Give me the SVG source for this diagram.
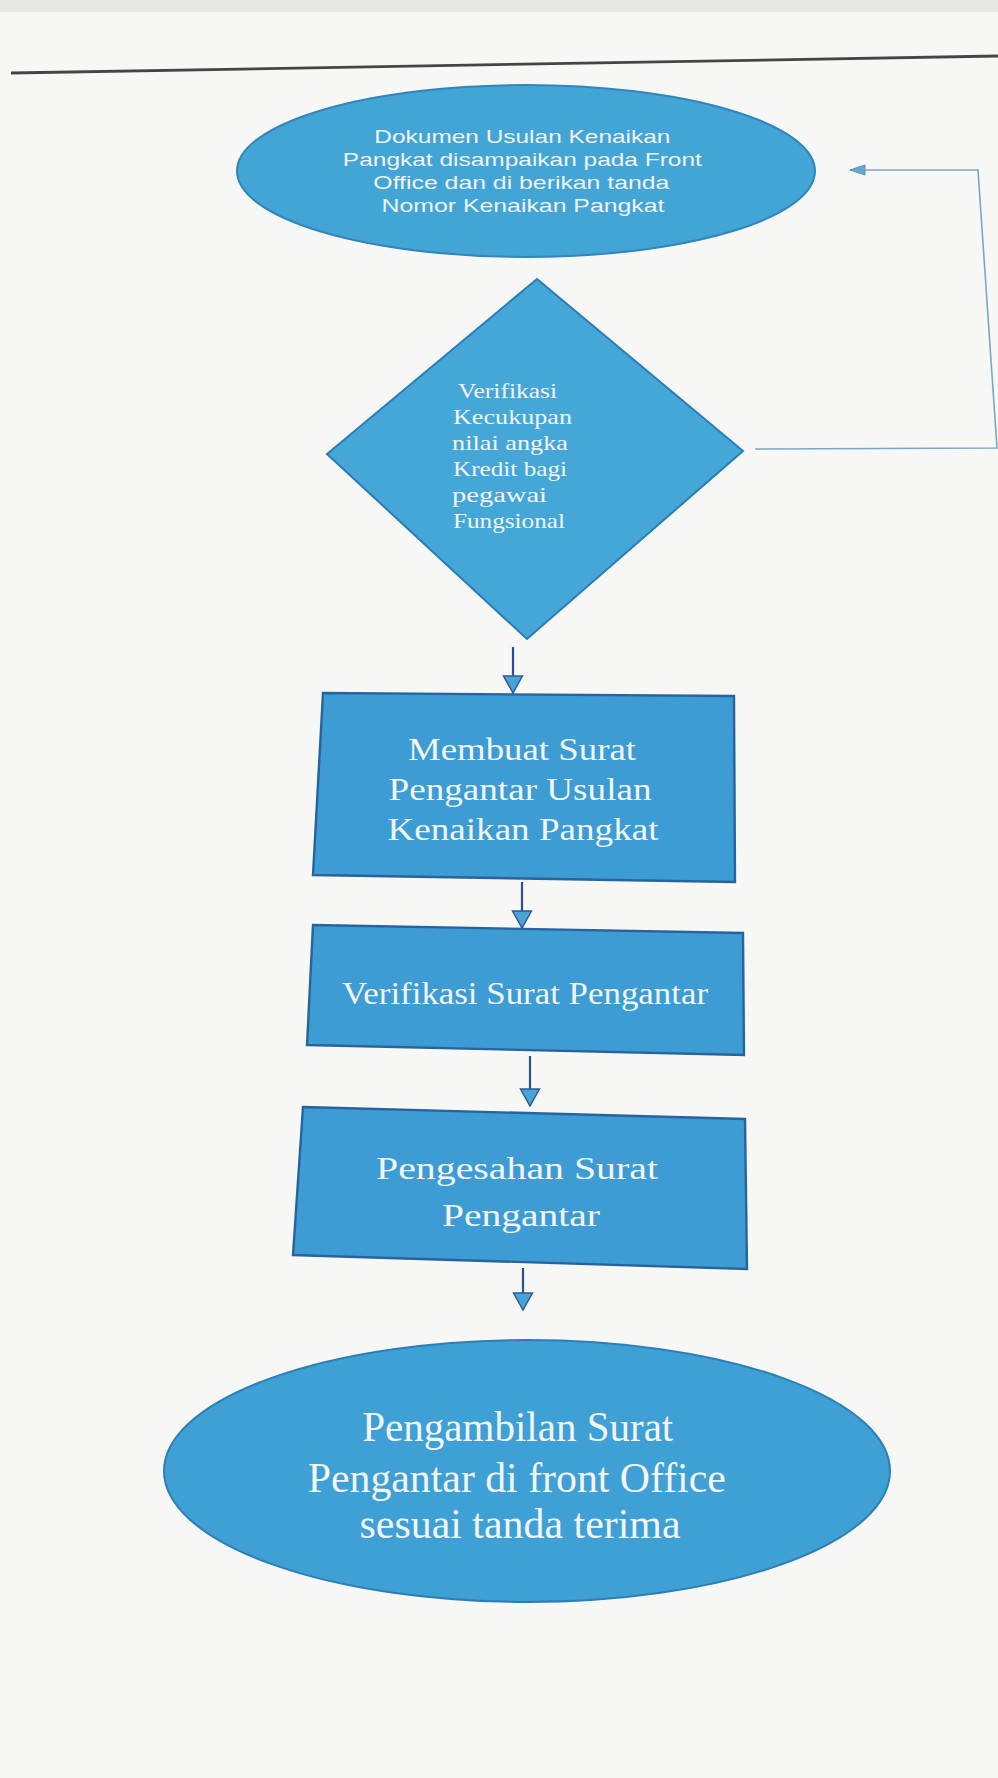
<svg xmlns="http://www.w3.org/2000/svg" width="998" height="1778" viewBox="0 0 998 1778">
<defs>
<style>
.shape{fill:#3d9cd3;stroke:#27639f;stroke-width:2.4}
.sans{font-family:"Liberation Sans",Arial,sans-serif;fill:#eef4f8;font-size:19px}
.serif{font-family:"Liberation Serif","Times New Roman",serif;fill:#f2f6fa}
.flow{stroke:#2b4f8f;stroke-width:2.2;fill:none}
.back{stroke:#7aa6c8;stroke-width:1.6;fill:none}
</style>
<marker id="ah" markerUnits="userSpaceOnUse" markerWidth="22" markerHeight="22" refX="18" refY="10.5" orient="auto" viewBox="0 0 22 22">
<path d="M1,1 L18,10.5 L1,20 z" fill="#4aa3d6" stroke="#2b5a98" stroke-width="1.5"/>
</marker>
<marker id="ah2" markerUnits="userSpaceOnUse" markerWidth="18" markerHeight="14" refX="16" refY="7" orient="auto" viewBox="0 0 18 14">
<path d="M1,2 L16,7 L1,12 z" fill="#6aa6d2" stroke="#5a8fbf" stroke-width="1"/>
</marker>
</defs>
<rect x="0" y="0" width="998" height="1778" fill="#f7f8f5"/>
<rect x="0" y="0" width="998" height="12" fill="#e4e7e4"/>
<line x1="11" y1="73" x2="998" y2="56" stroke="#454545" stroke-width="2.8"/>

<g id="connectors">
<polyline class="back" points="755,449 997,448 978,170 850,170" marker-end="url(#ah2)"/>
<line class="flow" x1="513" y1="647" x2="513" y2="693" marker-end="url(#ah)"/>
<line class="flow" x1="522" y1="882" x2="522" y2="928" marker-end="url(#ah)"/>
<line class="flow" x1="530" y1="1056" x2="530" y2="1106" marker-end="url(#ah)"/>
<line class="flow" x1="523" y1="1268" x2="523" y2="1310" marker-end="url(#ah)"/>
</g>

<g id="start">
<ellipse class="shape" cx="526" cy="171" rx="289" ry="86" style="fill:#43a4d6;stroke:#2f86bb;stroke-width:2"/>
<text class="sans" text-anchor="middle">
<tspan x="525" y="143" textLength="296" lengthAdjust="spacingAndGlyphs">Dokumen Usulan Kenaikan</tspan>
<tspan x="525" y="166" textLength="359" lengthAdjust="spacingAndGlyphs">Pangkat disampaikan pada Front</tspan>
<tspan x="524" y="189" textLength="296" lengthAdjust="spacingAndGlyphs">Office dan di berikan tanda</tspan>
<tspan x="523" y="212" textLength="283" lengthAdjust="spacingAndGlyphs">Nomor Kenaikan Pangkat</tspan>
</text>
</g>

<g id="verifikasi-kredit">
<polygon class="shape" points="537,279 743,451 527,639 327,454" style="fill:#45a6d8;stroke:#2a7cb5;stroke-width:2"/>
<text class="serif" font-size="22">
<tspan x="458" y="398" textLength="99" lengthAdjust="spacingAndGlyphs">Verifikasi</tspan>
<tspan x="453" y="424" textLength="119" lengthAdjust="spacingAndGlyphs">Kecukupan</tspan>
<tspan x="452" y="450" textLength="116" lengthAdjust="spacingAndGlyphs">nilai angka</tspan>
<tspan x="453" y="476" textLength="114" lengthAdjust="spacingAndGlyphs">Kredit bagi</tspan>
<tspan x="452" y="502" textLength="95" lengthAdjust="spacingAndGlyphs">pegawai</tspan>
<tspan x="453" y="528" textLength="112" lengthAdjust="spacingAndGlyphs">Fungsional</tspan>
</text>
</g>

<g id="membuat-surat">
<polygon class="shape" points="323,693 734,696 735,882 313,875"/>
<text class="serif" font-size="32" text-anchor="middle">
<tspan x="526" y="760" textLength="228" lengthAdjust="spacingAndGlyphs">Membuat Surat</tspan>
<tspan x="524" y="800" textLength="263" lengthAdjust="spacingAndGlyphs">Pengantar Usulan</tspan>
<tspan x="523" y="840" textLength="271" lengthAdjust="spacingAndGlyphs">Kenaikan Pangkat</tspan>
</text>
</g>

<g id="verifikasi-surat">
<polygon class="shape" points="313,925 743,933 744,1055 307,1045"/>
<text class="serif" font-size="32" text-anchor="middle">
<tspan x="525" y="1004" textLength="366" lengthAdjust="spacingAndGlyphs">Verifikasi Surat Pengantar</tspan>
</text>
</g>

<g id="pengesahan">
<polygon class="shape" points="303,1107 745,1119 747,1269 293,1255"/>
<text class="serif" font-size="32" text-anchor="middle">
<tspan x="521" y="1179" textLength="282" lengthAdjust="spacingAndGlyphs">Pengesahan Surat</tspan>
<tspan x="521" y="1226" textLength="158" lengthAdjust="spacingAndGlyphs">Pengantar</tspan>
</text>
</g>

<g id="pengambilan">
<ellipse class="shape" cx="527" cy="1471" rx="363" ry="131" style="fill:#3fa0d5;stroke:#2b7fb6;stroke-width:2"/>
<text class="serif" font-size="42" text-anchor="middle">
<tspan x="523" y="1441" textLength="311" lengthAdjust="spacingAndGlyphs">Pengambilan Surat</tspan>
<tspan x="522" y="1492" textLength="418" lengthAdjust="spacingAndGlyphs">Pengantar di front Office</tspan>
<tspan x="520" y="1538" textLength="321" lengthAdjust="spacingAndGlyphs">sesuai tanda terima</tspan>
</text>
</g>
</svg>
